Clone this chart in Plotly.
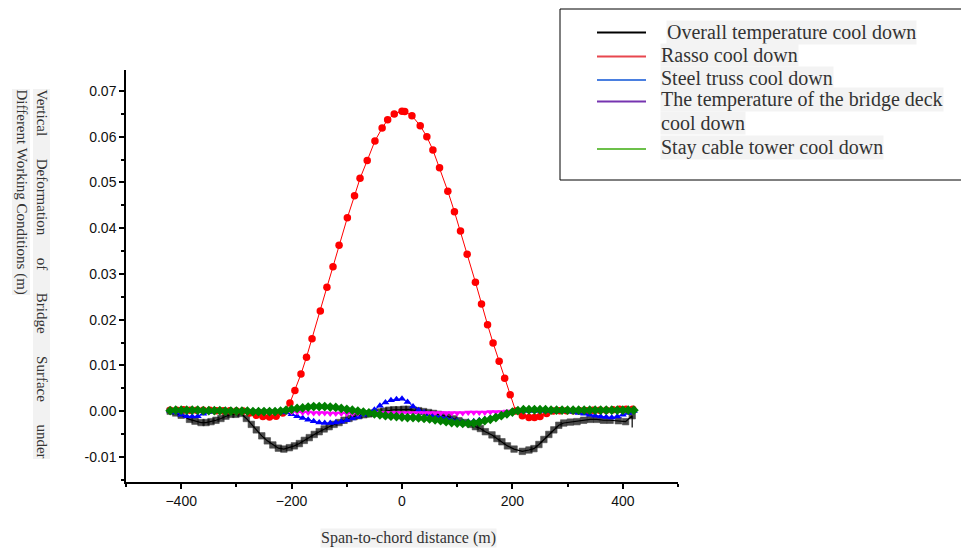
import plotly.graph_objects as go

# ---------------- data ----------------
# Overall temperature cool down (black squares)
overall_x = [-420, -410, -400, -385, -375, -364, -355, -346, -337, -328,
             -319, -310, -301, -292, -282, -273, -264, -254, -244, -234,
             -224, -214, -204, -195, -186, -177, -168, -159, -150, -141,
             -132, -123, -114, -105, -96, -87, -78, -69, -60, -51,
             -42, -33, -24, -15, -6, 3, 12, 21, 30, 39,
             48, 57, 66, 75, 84, 94, 103, 115, 124, 133,
             142, 151, 163, 172, 181, 191, 203, 218, 230, 239,
             248, 257, 266, 275, 284, 293, 305, 317, 329, 341,
             353, 365, 377, 392, 405, 417, 417]
overall_y = [0.0000, -0.0004, -0.0009, -0.0018, -0.0022, -0.0025, -0.0025, -0.0023, -0.0020, -0.0016,
             -0.0011, -0.0007, -0.0007, -0.0005, -0.0016, -0.0029, -0.0041, -0.0054, -0.0065, -0.0074,
             -0.0081, -0.0083, -0.0080, -0.0076, -0.0071, -0.0064, -0.0058, -0.0051, -0.0045, -0.0039,
             -0.0034, -0.0029, -0.0025, -0.0020, -0.0016, -0.0012, -0.0010, -0.0008, -0.0006, -0.0004,
             -0.0002, 0.0000, 0.0002, 0.0003, 0.0003, 0.0004, 0.0004, 0.0002, 0.0001, -0.0001,
             -0.0003, -0.0005, -0.0007, -0.0009, -0.0012, -0.0017, -0.0021, -0.0025, -0.0029, -0.0034,
             -0.0038, -0.0045, -0.0052, -0.0060, -0.0067, -0.0076, -0.0083, -0.0088, -0.0085, -0.0082,
             -0.0073, -0.0062, -0.0051, -0.0041, -0.0031, -0.0026, -0.0024, -0.0023, -0.0020, -0.0018,
             -0.0018, -0.0020, -0.0020, -0.0021, -0.0023, -0.0010, -0.0036]

# Rasso cool down (red circles)
rasso_x = [-420, -408, -396, -384, -372, -360, -348, -336, -324, -312,
           -300, -288, -276, -264, -252, -240, -228, -216,
           -203, -194, -183, -173, -163, -148, -136, -125, -114, -99,
           -86, -76, -63, -49, -36, -26, -14, 0, 5,
           18, 33, 45, 56, 68, 83, 95, 106, 118, 133,
           144, 155, 165, 176, 186, 196, 206,
           218, 230, 240, 250, 262, 274, 286, 298, 310, 322,
           334, 346, 358, 370, 382, 394, 406, 418]
rasso_y = [0.0002, 0.0002, 0.0003, 0.0002, 0.0002, 0.0002, 0.0002, 0.0001, 0.0001, 0.0001,
           0.0000, 0.0000, -0.0004, -0.0009, -0.0012, -0.0013, -0.0011, -0.0004,
           0.0018, 0.0045, 0.0081, 0.0118, 0.0158, 0.0219, 0.0271, 0.0316, 0.0363, 0.0423,
           0.0471, 0.0509, 0.0548, 0.0591, 0.0619, 0.0637, 0.0650, 0.0656, 0.0655,
           0.0646, 0.0624, 0.0600, 0.0571, 0.0532, 0.0481, 0.0436, 0.0394, 0.0343, 0.0282,
           0.0234, 0.0189, 0.0149, 0.0109, 0.0072, 0.0036, 0.0000,
           -0.0010, -0.0014, -0.0014, -0.0012, -0.0005, 0.0000, 0.0001, 0.0001, 0.0001, 0.0001,
           0.0001, 0.0002, 0.0002, 0.0002, 0.0003, 0.0004, 0.0004, 0.0004]

# common station grid for the three small-deformation cases
grid_x = [-420, -410, -400, -390, -380, -370, -360, -350, -340, -330,
          -320, -310, -300, -290, -280, -270, -260, -250, -240, -230,
          -220, -210, -200, -190, -180, -170, -160, -150, -140, -130,
          -120, -110, -100, -90, -80, -70, -60, -50, -40, -30,
          -20, -10, 0, 10, 20, 30, 40, 50, 60, 70,
          80, 90, 100, 110, 120, 130, 140, 150, 160, 170,
          180, 190, 200, 210, 220, 230, 240, 250, 260, 270,
          280, 290, 300, 310, 320, 330, 340, 350, 360, 370,
          380, 390, 400, 410, 420]

# Steel truss cool down (blue up-triangles)
truss_y = [0.0000, -0.0003, -0.0008, -0.0011, -0.0012, -0.0011, -0.0006, -0.0002, 0.0001, 0.0002,
           0.0002, 0.0002, 0.0002, 0.0001, 0.0001, 0.0000, 0.0000, 0.0000, 0.0000, 0.0000,
           0.0000, -0.0003, -0.0007, -0.0011, -0.0015, -0.0019, -0.0022, -0.0025, -0.0026, -0.0026,
           -0.0025, -0.0023, -0.0020, -0.0016, -0.0013, -0.0008, -0.0003, 0.0003, 0.0012, 0.0019,
           0.0024, 0.0026, 0.0027, 0.0020, 0.0010, 0.0002, -0.0003, -0.0007, -0.0010, -0.0013,
           -0.0016, -0.0019, -0.0021, -0.0023, -0.0023, -0.0022, -0.0020, -0.0018, -0.0015, -0.0011,
           -0.0008, -0.0004, -0.0001, 0.0000, 0.0001, 0.0001, 0.0001, 0.0001, 0.0001, 0.0001,
           0.0001, 0.0001, 0.0000, -0.0002, -0.0004, -0.0006, -0.0008, -0.0010, -0.0012, -0.0013,
           -0.0014, -0.0012, -0.0008, -0.0004, 0.0000]

# Bridge deck temperature cool down (magenta down-triangles)
deck_y = [0.0000, 0.0001, 0.0001, 0.0001, 0.0001, 0.0001, 0.0001, 0.0001, 0.0001, 0.0001,
          0.0001, 0.0001, 0.0001, 0.0001, 0.0001, 0.0001, 0.0000, 0.0000, 0.0000, 0.0000,
          0.0000, -0.0001, -0.0002, -0.0002, -0.0003, -0.0003, -0.0004, -0.0004, -0.0004, -0.0005,
          -0.0005, -0.0005, -0.0005, -0.0005, -0.0005, -0.0005, -0.0005, -0.0005, -0.0004, -0.0004,
          -0.0004, -0.0004, -0.0004, -0.0004, -0.0004, -0.0004, -0.0004, -0.0004, -0.0004, -0.0004,
          -0.0004, -0.0004, -0.0004, -0.0004, -0.0003, -0.0003, -0.0003, -0.0003, -0.0002, -0.0002,
          -0.0002, -0.0001, -0.0001, 0.0000, 0.0000, 0.0001, 0.0001, 0.0001, 0.0001, 0.0001,
          0.0001, 0.0001, 0.0001, 0.0001, 0.0001, 0.0001, 0.0001, 0.0001, 0.0001, 0.0001,
          0.0001, 0.0001, 0.0001, 0.0001, 0.0001]

# Stay cable tower cool down (green diamonds)
tower_y = [0.0001, 0.0002, 0.0002, 0.0002, 0.0002, 0.0002, 0.0001, 0.0001, 0.0001, 0.0001,
           0.0000, 0.0000, 0.0000, 0.0000, 0.0000, -0.0001, -0.0001, -0.0001, -0.0001, -0.0001,
           0.0000, 0.0002, 0.0004, 0.0006, 0.0007, 0.0009, 0.0010, 0.0010, 0.0010, 0.0009,
           0.0008, 0.0006, 0.0004, 0.0002, 0.0000, -0.0002, -0.0004, -0.0006, -0.0008, -0.0010,
           -0.0011, -0.0012, -0.0013, -0.0014, -0.0014, -0.0015, -0.0016, -0.0017, -0.0019, -0.0021,
           -0.0023, -0.0025, -0.0026, -0.0027, -0.0027, -0.0026, -0.0024, -0.0021, -0.0018, -0.0014,
           -0.0010, -0.0006, -0.0002, 0.0001, 0.0003, 0.0003, 0.0003, 0.0003, 0.0003, 0.0002,
           0.0002, 0.0002, 0.0002, 0.0002, 0.0002, 0.0002, 0.0002, 0.0002, 0.0002, 0.0002,
           0.0002, 0.0002, 0.0002, 0.0002, 0.0002]

legend_names = ["Overall temperature cool down", "Rasso cool down", "Steel truss cool down",
                "The temperature of the bridge deck", "Stay cable tower cool down"]
legend_wrap = "cool down"
legend_colors = ["#000000", "#e8474f", "#4a7fe0", "#7634b0", "#6cc04a"]

x_ticks = [-400, -200, 0, 200, 400]
y_ticks = [-0.01, 0.00, 0.01, 0.02, 0.03, 0.04, 0.05, 0.06, 0.07]
y_tick_text = ["-0.01", "0.00", "0.01", "0.02", "0.03", "0.04", "0.05", "0.06", "0.07"]

# ---------------- figure ----------------
# the page body adds an 8 px margin, so the figure is 8 px smaller and every
# page position below is shifted by that offset
OFF = 8
W, H = 969 - OFF, 550 - OFF
L, R, T, B = 126 - OFF, 969 - 678, 70 - OFF, 550 - 482
pw, ph = W - L - R, H - T - B


def px(xp):
    return (xp - OFF - L) / pw


def py(yp):
    return (H - B - (yp - OFF)) / ph


fig = go.Figure()

overall_sizes = [6.5] * (len(overall_x) - 1) + [0]
fig.add_trace(go.Scatter(x=overall_x, y=overall_y, mode="lines+markers", name=legend_names[0],
                         line=dict(color="#000000", width=1.2),
                         marker=dict(symbol="square", size=overall_sizes, color="#000000",
                                     line=dict(color="#000000", width=0.6))))
fig.add_trace(go.Scatter(x=rasso_x, y=rasso_y, mode="lines+markers", name=legend_names[1],
                         line=dict(color="#ff0000", width=1),
                         marker=dict(symbol="circle", size=7.5, color="#ff0000")))
fig.add_trace(go.Scatter(x=grid_x, y=truss_y, mode="lines+markers", name=legend_names[2],
                         line=dict(color="#0000ff", width=1),
                         marker=dict(symbol="triangle-up", size=7, color="#0000ff")))
fig.add_trace(go.Scatter(x=grid_x, y=deck_y, mode="lines+markers", name=legend_names[3],
                         line=dict(color="#ff00ff", width=1),
                         marker=dict(symbol="triangle-down", size=7, color="#ff00ff")))
fig.add_trace(go.Scatter(x=grid_x, y=tower_y, mode="lines+markers", name=legend_names[4],
                         line=dict(color="#008000", width=1),
                         marker=dict(symbol="diamond", size=7.5, color="#008000")))

shapes = []
# legend frame
shapes.append(dict(type="rect", xref="paper", yref="paper",
                   x0=px(560), x1=px(968), y0=py(180), y1=py(9),
                   line=dict(color="#000000", width=1), fillcolor="rgba(0,0,0,0)"))
# legend sample lines
for col, ly in zip(legend_colors, [32.5, 56.5, 80, 101.5, 149]):
    shapes.append(dict(type="line", xref="paper", yref="paper",
                       x0=px(597), x1=px(646), y0=py(ly), y1=py(ly),
                       line=dict(color=col, width=2)))

legend_font = dict(family="Liberation Serif", size=20, color="#333333")
legend_rows = [(legend_names[0], 666, 32), (legend_names[1], 660, 55), (legend_names[2], 660, 77.5),
               (legend_names[3], 660, 100), (legend_wrap, 660, 123), (legend_names[4], 660, 147)]

annotations = []
for txt, lx, ly in legend_rows:
    annotations.append(dict(text=txt, xref="paper", yref="paper", x=px(lx), y=py(ly),
                            xanchor="left", yanchor="middle", showarrow=False,
                            bgcolor="#f3f3f3", borderpad=0, font=legend_font))

nb = "\u00a0" * 6
ytitle1 = ("Vertical" + nb + "Deformation" + nb + "of" + nb + "Bridge" + nb + "Surface" + nb + "under")
ytitle2 = "Different Working Conditions (m)"
title_font = dict(family="Liberation Serif", size=15, color="#333333")

annotations += [
    dict(text=ytitle1, xref="paper", yref="paper", x=px(42), y=py(88), xanchor="center",
         yanchor="top", textangle=90, showarrow=False, bgcolor="#f2f2f2", borderpad=0,
         font=title_font),
    dict(text=ytitle2, xref="paper", yref="paper", x=px(21), y=py(88), xanchor="center",
         yanchor="top", textangle=90, showarrow=False, bgcolor="#f2f2f2", borderpad=0,
         font=title_font),
    dict(text="Span-to-chord distance (m)", xref="paper", yref="paper", x=px(408), y=py(538),
         xanchor="center", yanchor="middle", showarrow=False, bgcolor="#f2f2f2", borderpad=0,
         font=dict(family="Liberation Serif", size=16, color="#333333")),
]

fig.update_layout(
    width=W, height=H,
    margin=dict(l=L, r=R, t=T, b=B, autoexpand=False),
    paper_bgcolor="white", plot_bgcolor="white",
    showlegend=False,
    shapes=shapes,
    annotations=annotations,
)

fig.update_xaxes(range=[-500, 500], showgrid=False, zeroline=False,
                 showline=True, linecolor="#000000", linewidth=1.5,
                 tickmode="array", tickvals=x_ticks, ticks="outside", ticklen=5,
                 tickcolor="#000000", tickwidth=1.5,
                 minor=dict(dtick=100, tick0=0, ticks="outside", ticklen=3,
                            tickcolor="#000000", tickwidth=1.5, showgrid=False),
                 tickfont=dict(family="Liberation Sans", size=14, color="#111111"))
fig.update_yaxes(range=[-0.0155, 0.0746], showgrid=False, zeroline=False,
                 showline=True, linecolor="#000000", linewidth=1.5,
                 tickmode="array", tickvals=y_ticks, ticktext=y_tick_text,
                 ticks="outside", ticklen=5, tickcolor="#000000", tickwidth=1.5,
                 minor=dict(dtick=0.005, tick0=0, ticks="outside", ticklen=3,
                            tickcolor="#000000", tickwidth=1.5, showgrid=False),
                 tickfont=dict(family="Liberation Sans", size=14, color="#111111"))

fig.write_html("out.html")
